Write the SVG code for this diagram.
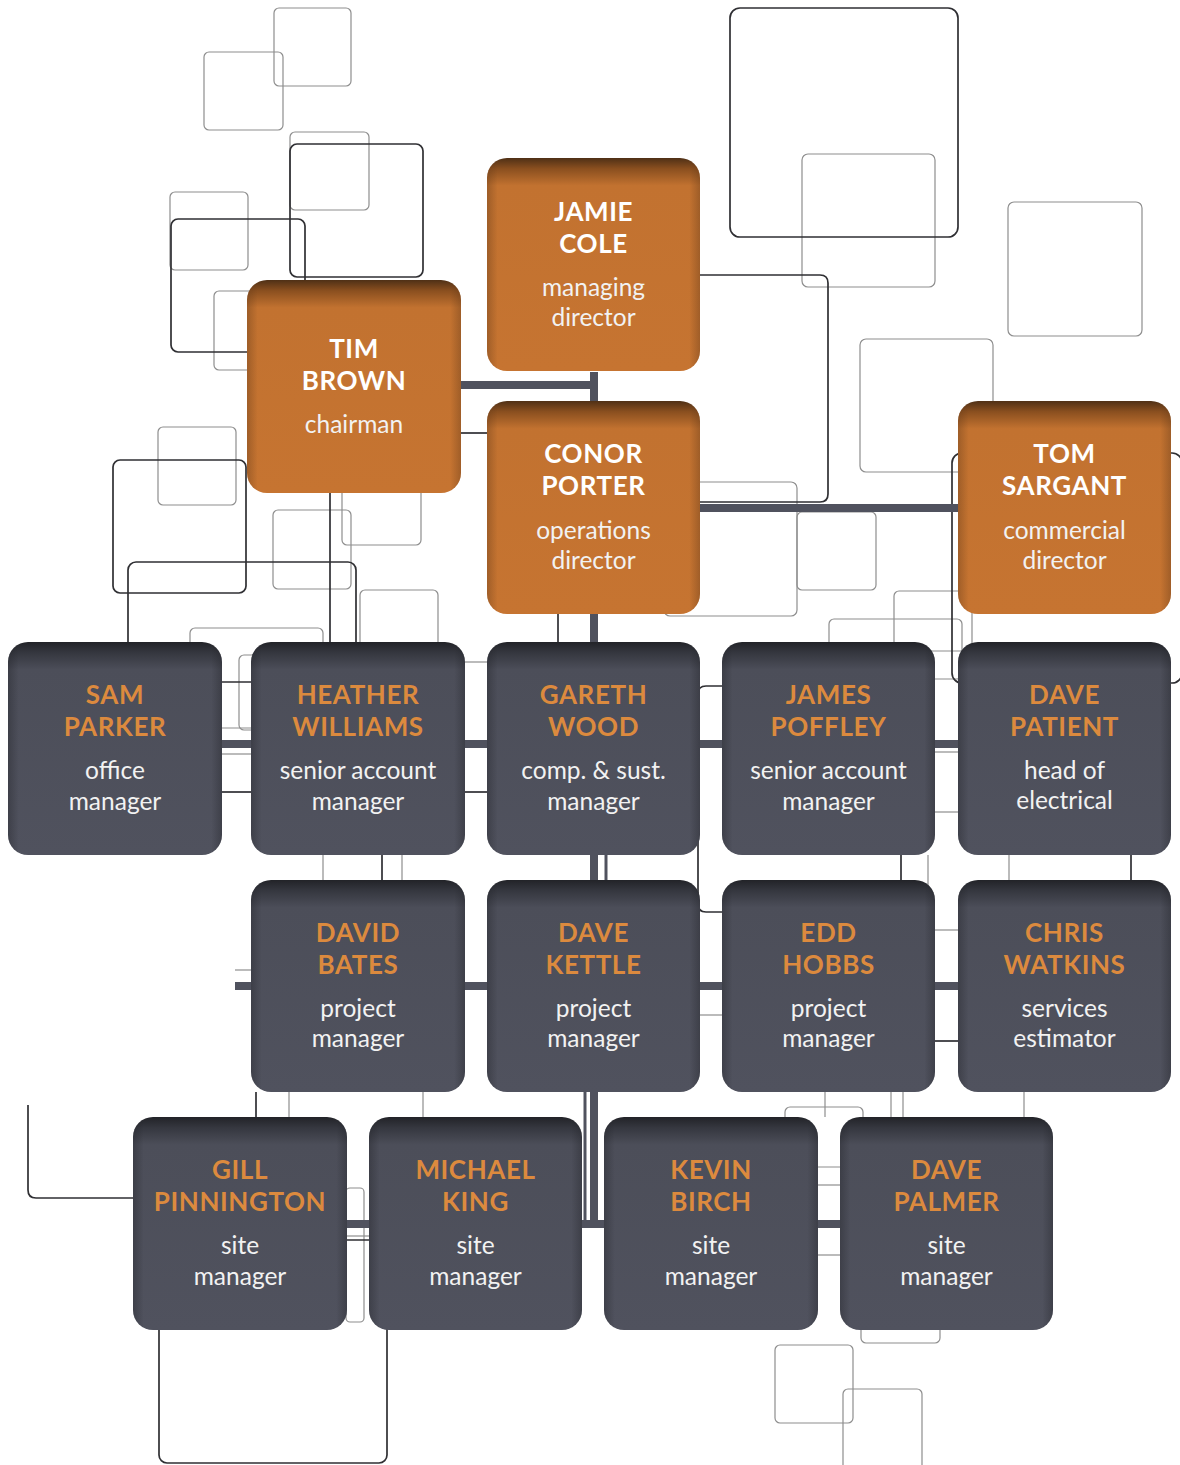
<svg xmlns="http://www.w3.org/2000/svg" width="1180" height="1465" viewBox="0 0 1180 1465">
<defs>
<linearGradient id="gO" x1="0" y1="0" x2="0" y2="1">
<stop offset="0" stop-color="#4f3016"/>
<stop offset="0.05" stop-color="#8a4f1f"/>
<stop offset="0.13" stop-color="#c27230"/>
<stop offset="1" stop-color="#c67431"/>
</linearGradient>
<linearGradient id="gOs" x1="0" y1="0" x2="1" y2="0">
<stop offset="0" stop-color="#5a3518" stop-opacity="0.35"/>
<stop offset="0.05" stop-color="#5a3518" stop-opacity="0"/>
<stop offset="0.95" stop-color="#5a3518" stop-opacity="0"/>
<stop offset="1" stop-color="#5a3518" stop-opacity="0.35"/>
</linearGradient>
<linearGradient id="gD" x1="0" y1="0" x2="0" y2="1">
<stop offset="0" stop-color="#222328"/>
<stop offset="0.05" stop-color="#35373f"/>
<stop offset="0.13" stop-color="#4c4e59"/>
<stop offset="1" stop-color="#50525e"/>
</linearGradient>
<linearGradient id="gDs" x1="0" y1="0" x2="1" y2="0">
<stop offset="0" stop-color="#1e1f24" stop-opacity="0.35"/>
<stop offset="0.05" stop-color="#1e1f24" stop-opacity="0"/>
<stop offset="0.95" stop-color="#1e1f24" stop-opacity="0"/>
<stop offset="1" stop-color="#1e1f24" stop-opacity="0.35"/>
</linearGradient>
<style>
.lt{fill:none;stroke:#8e8e8e;stroke-width:1.2}
.dk{fill:none;stroke:#2f2f33;stroke-width:1.7}
.bar{fill:none;stroke:#50525e;stroke-width:8}
.tb{fill:none;stroke:#50525e;stroke-width:3}
.bo{fill:url(#gO)}
.bos{fill:url(#gOs)}
.bd{fill:url(#gD)}
.bds{fill:url(#gDs)}
text{font-family:Lato,"Open Sans","Liberation Sans",sans-serif;text-anchor:middle}
.nw{font-weight:700;font-size:26px;letter-spacing:0.6px;fill:#ffffff}
.no{font-weight:700;font-size:26px;letter-spacing:0.6px;fill:#dc8a3e}
.r{font-size:24.5px;fill:#f2f2f2}
</style>
</defs>

<g id="background">
<rect class="lt" x="274" y="8" width="77" height="78" rx="5"/>
<rect class="lt" x="204" y="52" width="79" height="78" rx="5"/>
<rect class="lt" x="290" y="132" width="79" height="78" rx="5"/>
<rect class="lt" x="170" y="192" width="78" height="78" rx="5"/>
<rect class="lt" x="214" y="291" width="40" height="79" rx="5"/>
<rect class="lt" x="158" y="427" width="78" height="78" rx="5"/>
<rect class="lt" x="273" y="510" width="78" height="79" rx="5"/>
<rect class="lt" x="342" y="470" width="79" height="75" rx="5"/>
<rect class="lt" x="360" y="590" width="78" height="60" rx="5"/>
<rect class="lt" x="190" y="628" width="133" height="100" rx="5"/>
<rect class="lt" x="239" y="655" width="30" height="75" rx="5"/>
<rect class="lt" x="802" y="154" width="133" height="133" rx="6"/>
<rect class="lt" x="1008" y="202" width="134" height="134" rx="6"/>
<rect class="lt" x="860" y="339" width="133" height="133" rx="6"/>
<rect class="lt" x="664" y="482" width="133" height="134" rx="6"/>
<rect class="lt" x="797" y="512" width="79" height="78" rx="5"/>
<rect class="lt" x="894" y="591" width="78" height="60" rx="5"/>
<rect class="lt" x="829" y="619" width="133" height="60" rx="5"/>
<rect class="lt" x="785" y="1107" width="78" height="60" rx="5"/>
<rect class="lt" x="861" y="1290" width="79" height="53" rx="5"/>
<rect class="lt" x="775" y="1345" width="78" height="78" rx="5"/>
<rect class="lt" x="843" y="1389" width="79" height="90" rx="5"/>
<rect class="lt" x="346" y="1188" width="18" height="134" rx="4"/>
<rect class="dk" x="290" y="144" width="133" height="133" rx="7"/>
<rect class="dk" x="171" y="219" width="134" height="133" rx="7"/>
<rect class="dk" x="113" y="460" width="133" height="133" rx="7"/>
<rect class="dk" x="128" y="562" width="228" height="120" rx="8"/>
<rect class="dk" x="730" y="8" width="228" height="229" rx="10"/>
<path class="dk" d="M700,275 H820 Q828,275 828,283 V494 Q828,502 820,502 H700"/>
<rect class="dk" x="952" y="453" width="230" height="230" rx="10"/>
<rect class="dk" x="159" y="1240" width="228" height="223" rx="8"/>
<path class="dk" d="M28,1105 V1190 Q28,1198 36,1198 H140"/>
<path class="dk" d="M722,686 H706 Q698,686 698,694 V904 Q698,912 706,912 H722"/>
<line class="dk" x1="330" y1="493" x2="330" y2="642"/>
<line class="dk" x1="558" y1="610" x2="558" y2="642"/>
<line class="dk" x1="461" y1="433" x2="487" y2="433"/>
<line class="lt" x1="323" y1="855" x2="323" y2="880"/>
<line class="dk" x1="382" y1="855" x2="382" y2="880"/>
<line class="lt" x1="402" y1="855" x2="402" y2="880"/>
<line class="dk" x1="901" y1="855" x2="901" y2="880"/>
<line class="lt" x1="928" y1="855" x2="928" y2="945"/>
<line class="lt" x1="1009" y1="855" x2="1009" y2="880"/>
<line class="dk" x1="1131" y1="855" x2="1131" y2="880"/>
<line class="dk" x1="256" y1="1092" x2="256" y2="1117"/>
<line class="lt" x1="289" y1="1092" x2="289" y2="1117"/>
<line class="lt" x1="423" y1="1092" x2="423" y2="1117"/>
<line class="lt" x1="825" y1="1092" x2="825" y2="1117"/>
<line class="lt" x1="891" y1="1092" x2="891" y2="1117"/>
<line class="lt" x1="903" y1="1092" x2="903" y2="1117"/>
<line class="lt" x1="1024" y1="1092" x2="1024" y2="1117"/>
<line class="lt" x1="222" y1="754" x2="251" y2="754"/>
<line class="dk" x1="222" y1="792" x2="251" y2="792"/>
<line class="lt" x1="465" y1="662" x2="487" y2="662"/>
<line class="dk" x1="465" y1="792" x2="487" y2="792"/>
<line class="lt" x1="935" y1="752" x2="958" y2="752"/>
<line class="lt" x1="935" y1="812" x2="958" y2="812"/>
<line class="lt" x1="700" y1="1015" x2="722" y2="1015"/>
<line class="lt" x1="935" y1="930" x2="958" y2="930"/>
<line class="dk" x1="935" y1="1041" x2="958" y2="1041"/>
<line class="lt" x1="235" y1="970" x2="251" y2="970"/>
<line class="lt" x1="818" y1="1185" x2="840" y2="1185"/>
<line class="lt" x1="818" y1="1255" x2="840" y2="1255"/>
<line class="lt" x1="347" y1="1236" x2="369" y2="1236"/>
</g>

<g id="connectors">
<line class="bar" x1="461" y1="385" x2="598" y2="385"/>
<line class="bar" x1="594" y1="372" x2="594" y2="1226"/>
<line class="bar" x1="700" y1="508" x2="958" y2="508"/>
<line class="bar" x1="222" y1="744" x2="958" y2="744"/>
<line class="bar" x1="235" y1="986" x2="958" y2="986"/>
<line class="bar" x1="347" y1="1224" x2="840" y2="1224"/>
<line class="tb" x1="606" y1="855" x2="606" y2="880"/>
<line class="tb" x1="585" y1="1092" x2="585" y2="1222"/>
</g>

<g id="jamie-cole">
<rect class="bo" x="487" y="158" width="213" height="213" rx="20"/>
<rect class="bos" x="487" y="158" width="213" height="213" rx="20"/>
<text class="nw" x="593.5" y="221">JAMIE</text>
<text class="nw" x="593.5" y="252.5">COLE</text>
<text class="r" x="593.5" y="296">managing</text>
<text class="r" x="593.5" y="326">director</text>
</g>
<g id="tim-brown">
<rect class="bo" x="247" y="280" width="214" height="213" rx="20"/>
<rect class="bos" x="247" y="280" width="214" height="213" rx="20"/>
<text class="nw" x="354" y="358">TIM</text>
<text class="nw" x="354" y="389.5">BROWN</text>
<text class="r" x="354" y="433">chairman</text>
</g>
<g id="conor-porter">
<rect class="bo" x="487" y="401" width="213" height="213" rx="20"/>
<rect class="bos" x="487" y="401" width="213" height="213" rx="20"/>
<text class="nw" x="593.5" y="463">CONOR</text>
<text class="nw" x="593.5" y="494.5">PORTER</text>
<text class="r" x="593.5" y="539">operations</text>
<text class="r" x="593.5" y="569">director</text>
</g>
<g id="tom-sargant">
<rect class="bo" x="958" y="401" width="213" height="213" rx="20"/>
<rect class="bos" x="958" y="401" width="213" height="213" rx="20"/>
<text class="nw" x="1064.5" y="463">TOM</text>
<text class="nw" x="1064.5" y="494.5">SARGANT</text>
<text class="r" x="1064.5" y="539">commercial</text>
<text class="r" x="1064.5" y="569">director</text>
</g>

<g id="sam-parker">
<rect class="bd" x="8" y="642" width="214" height="213" rx="20"/>
<rect class="bds" x="8" y="642" width="214" height="213" rx="20"/>
<text class="no" x="115" y="704">SAM</text>
<text class="no" x="115" y="735.5">PARKER</text>
<text class="r" x="115" y="779">office</text>
<text class="r" x="115" y="810">manager</text>
</g>
<g id="heather-williams">
<rect class="bd" x="251" y="642" width="214" height="213" rx="20"/>
<rect class="bds" x="251" y="642" width="214" height="213" rx="20"/>
<text class="no" x="358" y="704">HEATHER</text>
<text class="no" x="358" y="735.5">WILLIAMS</text>
<text class="r" x="358" y="779">senior account</text>
<text class="r" x="358" y="810">manager</text>
</g>
<g id="gareth-wood">
<rect class="bd" x="487" y="642" width="213" height="213" rx="20"/>
<rect class="bds" x="487" y="642" width="213" height="213" rx="20"/>
<text class="no" x="593.5" y="704">GARETH</text>
<text class="no" x="593.5" y="735.5">WOOD</text>
<text class="r" x="593.5" y="779">comp. &amp; sust.</text>
<text class="r" x="593.5" y="810">manager</text>
</g>
<g id="james-poffley">
<rect class="bd" x="722" y="642" width="213" height="213" rx="20"/>
<rect class="bds" x="722" y="642" width="213" height="213" rx="20"/>
<text class="no" x="828.5" y="704">JAMES</text>
<text class="no" x="828.5" y="735.5">POFFLEY</text>
<text class="r" x="828.5" y="779">senior account</text>
<text class="r" x="828.5" y="810">manager</text>
</g>
<g id="dave-patient">
<rect class="bd" x="958" y="642" width="213" height="213" rx="20"/>
<rect class="bds" x="958" y="642" width="213" height="213" rx="20"/>
<text class="no" x="1064.5" y="704">DAVE</text>
<text class="no" x="1064.5" y="735.5">PATIENT</text>
<text class="r" x="1064.5" y="779">head of</text>
<text class="r" x="1064.5" y="809">electrical</text>
</g>

<g id="david-bates">
<rect class="bd" x="251" y="880" width="214" height="212" rx="20"/>
<rect class="bds" x="251" y="880" width="214" height="212" rx="20"/>
<text class="no" x="358" y="942">DAVID</text>
<text class="no" x="358" y="973.5">BATES</text>
<text class="r" x="358" y="1017">project</text>
<text class="r" x="358" y="1047">manager</text>
</g>
<g id="dave-kettle">
<rect class="bd" x="487" y="880" width="213" height="212" rx="20"/>
<rect class="bds" x="487" y="880" width="213" height="212" rx="20"/>
<text class="no" x="593.5" y="942">DAVE</text>
<text class="no" x="593.5" y="973.5">KETTLE</text>
<text class="r" x="593.5" y="1017">project</text>
<text class="r" x="593.5" y="1047">manager</text>
</g>
<g id="edd-hobbs">
<rect class="bd" x="722" y="880" width="213" height="212" rx="20"/>
<rect class="bds" x="722" y="880" width="213" height="212" rx="20"/>
<text class="no" x="828.5" y="942">EDD</text>
<text class="no" x="828.5" y="973.5">HOBBS</text>
<text class="r" x="828.5" y="1017">project</text>
<text class="r" x="828.5" y="1047">manager</text>
</g>
<g id="chris-watkins">
<rect class="bd" x="958" y="880" width="213" height="212" rx="20"/>
<rect class="bds" x="958" y="880" width="213" height="212" rx="20"/>
<text class="no" x="1064.5" y="942">CHRIS</text>
<text class="no" x="1064.5" y="973.5">WATKINS</text>
<text class="r" x="1064.5" y="1017">services</text>
<text class="r" x="1064.5" y="1047">estimator</text>
</g>

<g id="gill-pinnington">
<rect class="bd" x="133" y="1117" width="214" height="213" rx="20"/>
<rect class="bds" x="133" y="1117" width="214" height="213" rx="20"/>
<text class="no" x="240" y="1179">GILL</text>
<text class="no" x="240" y="1210.5">PINNINGTON</text>
<text class="r" x="240" y="1254">site</text>
<text class="r" x="240" y="1285">manager</text>
</g>
<g id="michael-king">
<rect class="bd" x="369" y="1117" width="213" height="213" rx="20"/>
<rect class="bds" x="369" y="1117" width="213" height="213" rx="20"/>
<text class="no" x="475.5" y="1179">MICHAEL</text>
<text class="no" x="475.5" y="1210.5">KING</text>
<text class="r" x="475.5" y="1254">site</text>
<text class="r" x="475.5" y="1285">manager</text>
</g>
<g id="kevin-birch">
<rect class="bd" x="604" y="1117" width="214" height="213" rx="20"/>
<rect class="bds" x="604" y="1117" width="214" height="213" rx="20"/>
<text class="no" x="711" y="1179">KEVIN</text>
<text class="no" x="711" y="1210.5">BIRCH</text>
<text class="r" x="711" y="1254">site</text>
<text class="r" x="711" y="1285">manager</text>
</g>
<g id="dave-palmer">
<rect class="bd" x="840" y="1117" width="213" height="213" rx="20"/>
<rect class="bds" x="840" y="1117" width="213" height="213" rx="20"/>
<text class="no" x="946.5" y="1179">DAVE</text>
<text class="no" x="946.5" y="1210.5">PALMER</text>
<text class="r" x="946.5" y="1254">site</text>
<text class="r" x="946.5" y="1285">manager</text>
</g>
</svg>
